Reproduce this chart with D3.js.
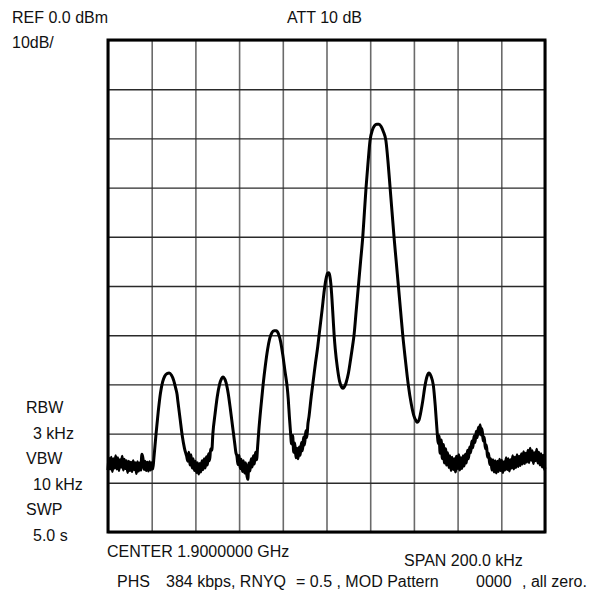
<!DOCTYPE html>
<html>
<head>
<meta charset="utf-8">
<script src="https://cdn.jsdelivr.net/npm/d3@7"></script>
<style>
  body { margin: 0; background: #fff; }
  text { font-family: "Liberation Sans", Arial, sans-serif; font-size: 16px; fill: #111; white-space: pre; }
</style>
</head>
<body>
<script>
// spectrum analyzer settings
const refLevel = 0      // dBm at top line
const dbPerDiv = 10
const spanKHz = 200
const divisions = 10

// trace: [offset from center in kHz, level in dBm]
const trace = [
  [-100,-87.4],[-99.5,-85.0],[-99,-87.2],[-98.5,-84.8],[-98,-87.7],[-97.5,-85.1],[-97,-87.0],[-96.5,-84.5],
  [-96,-87.2],[-95.5,-84.9],[-95,-87.5],[-94.5,-85.3],[-94,-86.8],[-93.5,-84.6],[-93,-87.4],[-92.5,-85.2],
  [-92,-87.1],[-91.5,-85.5],[-91,-87.9],[-90.5,-85.6],[-90,-87.5],[-89.5,-85.8],[-89,-87.7],[-88.5,-85.5],
  [-88,-87.3],[-87.5,-85.9],[-87,-88.1],[-86.5,-85.7],[-86,-87.6],[-85.5,-86.0],[-85,-87.4],[-84.5,-84.2],
  [-84,-85.0],[-83.5,-87.3],[-83,-85.6],[-82.5,-87.5],[-82,-85.8],[-81.5,-87.6],[-81,-85.7],[-80.5,-87.4],
  [-80,-85.9],[-79.5,-87.2],[-79,-85.0],
  [-78.5,-82.5],[-78,-80],[-77,-75.5],[-76,-71.8],[-75,-69.5],[-74,-68.3],[-73,-67.8],[-72,-67.7],[-71,-68.1],
  [-70,-69.1],[-69,-70.8],[-68.4,-72],[-68,-73.5],[-67,-77],[-66,-80.5],[-65,-83],[-64,-84.6],
  [-63.5,-85.6],[-63,-83.8],[-62.5,-86.4],[-62,-84.3],[-61.5,-87.0],[-61,-85.1],[-60.5,-87.5],[-60,-85.6],
  [-59.5,-87.9],[-59,-85.9],[-58.5,-88.2],[-58,-86.1],[-57.5,-87.8],[-57,-85.5],[-56.5,-87.3],[-56,-85.1],
  [-55.5,-87.0],[-55,-84.7],[-54.5,-86.4],[-54,-84.1],[-53.5,-85.5],[-53,-83.1],[-52.5,-83.4],
  [-52,-80],[-51,-76],[-50,-72.5],[-49,-70.1],[-48,-68.8],[-47.4,-68.5],[-47,-68.6],[-46,-69.6],[-45,-71.8],
  [-44,-75],[-43,-78.5],[-42,-82],[-41.5,-83.8],[-41,-84.6],
  [-40.5,-86.3],[-40,-84.4],[-39.5,-87.1],[-39,-85.2],[-38.5,-87.7],[-38,-85.5],[-37.5,-88.0],[-37,-85.9],
  [-36.5,-88.3],[-36,-89.3],[-35.5,-86.0],[-35,-87.6],[-34.5,-85.1],[-34,-86.8],[-33.5,-84.5],[-33,-86.2],
  [-32.5,-83.8],[-32,-85.3],[-31.5,-82.5],
  [-31,-79.5],[-30,-74.5],[-29,-70],[-28,-66.2],[-27,-63],[-26,-60.7],[-25,-59.5],[-24,-59.1],[-23,-59.1],
  [-22,-59.7],[-21,-61.3],[-20,-64],[-19,-67.3],[-18,-70.5],[-17.5,-73],[-17,-76.5],[-16.5,-79.5],
  [-16,-82.1],[-15.5,-80.4],[-15,-83.8],[-14.5,-81.9],[-14,-84.9],[-13.5,-83.0],[-13,-85.1],[-12.5,-82.7],
  [-12,-84.4],[-11.5,-81.8],[-11,-83.5],[-10.5,-80.7],[-10,-82.3],[-9.5,-79.4],[-9,-80.8],[-8.5,-78.0],
  [-8,-76.5],[-7,-72.5],[-6,-69],[-5,-65.5],[-4,-62.3],[-3.4,-60],[-2,-54.8],[-1,-50.8],[0,-48.1],
  [0.5,-47.4],[1,-47.3],[1.5,-47.9],[2,-49.6],[2.5,-52.6],[3,-56.3],[3.5,-60],[4,-62.8],[5,-66.7],
  [6,-69.4],[7,-70.6],[7.6,-70.8],[8.2,-70.5],[9,-69.6],[10,-67.8],[11,-65],[12,-62],[12.6,-60],
  [13.6,-55],[14.6,-50],[15.6,-45],[16.6,-40],[17.35,-35],[18.1,-30],[19,-25],[19.9,-20.5],[21,-18.3],
  [22,-17.4],[23,-17.1],[24,-17.1],[25,-17.6],[26,-18.6],[27.2,-20.5],[28.2,-25],[29.1,-30],[30,-35],
  [30.9,-40],[31.9,-45],[32.9,-50],[33.9,-55],[34.9,-60],[36.1,-65],[37.4,-70],[38.8,-74],[40,-76.4],
  [41,-77.4],[41.6,-77.7],[42.3,-77.3],[43,-76],[44,-73.5],[45.1,-70.2],[46,-68.4],[46.9,-67.7],
  [47.8,-68.3],[48.9,-70.2],[49.8,-74.5],[50.7,-80],[51.1,-82.0],
  [51.5,-80.5],[52,-84.0],[52.5,-81.3],[53,-85.1],[53.5,-82.2],[54,-86.0],[54.5,-83.1],[55,-86.4],
  [55.5,-83.9],[56,-86.9],[56.5,-84.5],[57,-87.5],[57.5,-84.8],[58,-87.3],[58.5,-85.1],[59,-87.8],
  [59.5,-84.6],[60,-87.1],[60.5,-84.3],[61,-87.4],[61.5,-84.9],[62,-87.1],[62.5,-84.5],[63,-86.6],
  [63.5,-84.2],[64,-86.0],[64.5,-83.4],[65,-85.1],[65.5,-82.7],
  [66,-83.9],[66.5,-81.5],[67,-82.9],[67.5,-80.5],[68,-81.8],[68.5,-79.5],[69,-80.8],[69.5,-78.7],
  [70,-80.1],[70.3,-78.2],[70.8,-80.3],[71.2,-79.0],[71.7,-81.5],[72.2,-80.7],[72.7,-83.1],[73.2,-82.3],
  [73.7,-84.8],[74.2,-84.0],[74.7,-86.3],[75.2,-85.1],[75.7,-87.4],[76.2,-85.3],
  [76.7,-87.8],[77.2,-85.5],[77.7,-88.0],[78.2,-85.6],[78.7,-87.7],[79.2,-85.2],[79.7,-87.5],[80.2,-85.4],
  [80.7,-87.9],[81.2,-85.7],[81.7,-87.4],[82.2,-84.9],[82.7,-87.3],[83.2,-85.1],[83.7,-87.6],[84.2,-85.3],
  [84.7,-87.0],[85.2,-84.5],[85.7,-87.2],[86.2,-84.8],[86.7,-86.9],[87.2,-84.3],[87.7,-86.7],[88.2,-84.6],
  [88.7,-86.5],[89.2,-84.1],[89.7,-86.2],[90.2,-83.7],[90.7,-86.1],[91.2,-84.0],[91.7,-85.8],[92.2,-83.4],
  [92.7,-85.9],[93.2,-83.0],[93.7,-85.4],[94.2,-83.5],[94.7,-86.1],[95.2,-83.9],[95.7,-85.5],[96.2,-83.2],
  [96.7,-86.0],[97.2,-83.8],[97.7,-86.4],[98.2,-84.1],[98.7,-86.8],[99.2,-84.4],[99.7,-87.3],[100,-86.9]
]

// annotation texts
const headerTexts = ['REF 0.0 dBm', '10dB/', 'ATT 10 dB']
const settingTexts = ['RBW', '3 kHz', 'VBW', '10 kHz', 'SWP', '5.0 s']
const centerText = 'CENTER 1.9000000 GHz'
const spanText = 'SPAN 200.0 kHz'
const footerParts = ['PHS', '384 kbps, RNYQ', '= 0.5 , MOD Pattern', '0000', ', all zero.']

const W = 591, H = 597
const plotLeft = 108, plotRight = 545, plotTop = 40, plotBottom = 532

const svg = d3.select('body').append('svg')
  .attr('width', W)
  .attr('height', H)

const x = d3.scaleLinear().domain([-spanKHz / 2, spanKHz / 2]).range([plotLeft, plotRight])
const y = d3.scaleLinear().domain([refLevel, refLevel - dbPerDiv * divisions]).range([plotTop, plotBottom])

const xTicks = d3.range(divisions + 1).map(i => -spanKHz / 2 + i * spanKHz / divisions)
const yTicks = d3.range(divisions + 1).map(i => refLevel - i * dbPerDiv)

// grid: vertical lines
svg.append('g')
  .attr('transform', `translate(0,${plotBottom})`)
  .call(d3.axisBottom(x).tickValues(xTicks).tickSize(-(plotBottom - plotTop)).tickFormat(''))
  .call(g => g.select('.domain').remove())
  .call(g => g.selectAll('line').attr('stroke', '#6a6a6a').attr('stroke-width', 1.6))

// grid: horizontal lines
svg.append('g')
  .attr('transform', `translate(${plotLeft},0)`)
  .call(d3.axisLeft(y).tickValues(yTicks).tickSize(-(plotRight - plotLeft)).tickFormat(''))
  .call(g => g.select('.domain').remove())
  .call(g => g.selectAll('line').attr('stroke', '#2a2a2a').attr('stroke-width', 1.4))

// frame
svg.append('rect')
  .attr('x', plotLeft).attr('y', plotTop)
  .attr('width', plotRight - plotLeft).attr('height', plotBottom - plotTop)
  .attr('fill', 'none').attr('stroke', '#000').attr('stroke-width', 3)

// trace
const line = d3.line()
  .x(d => x(d[0]))
  .y(d => y(d[1]))
  .curve(d3.curveMonotoneX)

svg.append('path')
  .datum(trace)
  .attr('d', line)
  .attr('fill', 'none')
  .attr('stroke', '#000')
  .attr('stroke-width', 3)
  .attr('stroke-linejoin', 'round')

// header
const headerPos = [[12, 23], [12, 48], [287, 23]]
svg.selectAll('.hdr').data(headerTexts).enter().append('text')
  .attr('class', 'hdr')
  .attr('x', (d, i) => headerPos[i][0])
  .attr('y', (d, i) => headerPos[i][1])
  .text(d => d)

// RBW / VBW / SWP block, values indented
svg.selectAll('.setting').data(settingTexts).enter().append('text')
  .attr('class', 'setting')
  .attr('x', (d, i) => i % 2 ? 33 : 26)
  .attr('y', (d, i) => 413 + i * 25.6)
  .text(d => d)

svg.append('text').attr('x', 107).attr('y', 557).text(centerText)
svg.append('text').attr('x', 404).attr('y', 566).text(spanText)

const footerX = [117, 166, 296, 476, 522]
svg.selectAll('.footer').data(footerParts).enter().append('text')
  .attr('class', 'footer')
  .attr('x', (d, i) => footerX[i])
  .attr('y', 587)
  .text(d => d)
</script>
</body>
</html>
